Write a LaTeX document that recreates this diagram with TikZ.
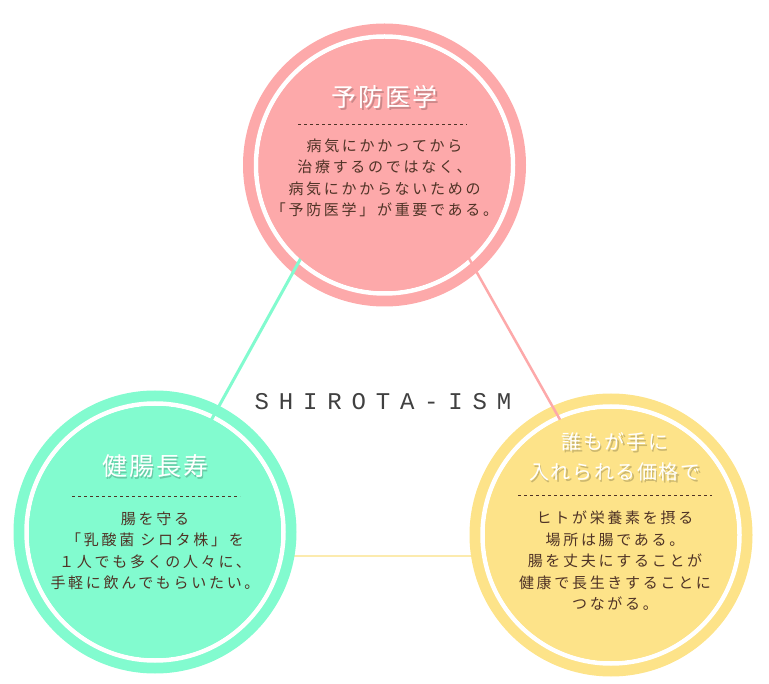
\documentclass[tikz,border=0pt]{standalone}
\usepackage{fontspec}
\newfontfamily\jptitle{Noto Sans CJK JP}[LetterSpace=8]
\newfontfamily\jpbody{Noto Sans CJK JP}[LetterSpace=18]
\newfontfamily\ismfont{Liberation Mono}[LetterSpace=41]
\usetikzlibrary{positioning}

\definecolor{prevpink}{HTML}{FDA9AA}
\definecolor{healthgreen}{HTML}{82FBCF}
\definecolor{priceyellow}{HTML}{FDE389}
\definecolor{lineyellow}{HTML}{FCEBAE}
\definecolor{textbrown}{HTML}{4F3326}

% white title with a soft shadow below it
\newcommand{\shadowed}[2]{\makebox[0pt][l]{\kern1.5pt\raisebox{-2pt}{\color{#1!80!black}#2}}#2}

\tikzstyle{outer} = [circle, inner sep=0pt, minimum size=283pt]
\tikzstyle{inner} = [circle, inner sep=0pt, minimum size=252pt]
\tikzstyle{ring} = [draw=white, line width=4.5pt]
\tikzstyle{title} = [text=white, font=\jptitle\fontsize{25}{30}\selectfont, align=center, inner sep=0pt]
\tikzstyle{smalltitle} = [font=\jptitle\fontsize{20}{30}\selectfont]
\tikzstyle{body} = [text=textbrown, font=\jpbody\fontsize{15}{21.5}\selectfont, align=center, inner sep=0pt]
\tikzstyle{divider} = [textbrown, line width=0.8pt, dash pattern=on 3pt off 3pt]
\tikzstyle{link} = [line width=3pt]

\begin{document}
\begin{tikzpicture}[x=1pt, y=-1pt]

    \useasboundingbox (0,0) rectangle (769,684);

    \coordinate (apex) at (384,108);
    \coordinate (lowleft) at (136,556);
    \coordinate (lowright) at (637,556);

    \draw [link, lineyellow, line width=2.5pt] (lowleft) -- (lowright);

    % outer bands
    \node (prevouter) [outer, fill=prevpink] at (384.5,165) {};
    \node (healthouter) [outer, fill=healthgreen] at (155,532) {};
    \node (priceouter) [outer, fill=priceyellow] at (611,535) {};

    \draw [ring] (prevouter.center) circle (128.5);
    \draw [ring] (healthouter.center) circle (128.5);
    \draw [ring] (priceouter.center) circle (128.5);

    \draw [link, healthgreen] (apex) -- (lowleft);
    \draw [link, prevpink, line width=2.5pt] (apex) -- (lowright);

    \node (previnner) [inner, fill=prevpink] at (prevouter.center) {};
    \node (healthinner) [inner, fill=healthgreen] at (healthouter.center) {};
    \node (priceinner) [inner, fill=priceyellow] at (priceouter.center) {};

    \node (ism) [font=\ismfont\fontsize{24}{28}\selectfont, text=black!75] at (383,402) {SHIROTA-ISM};

    % 予防医学
    \node (prevtitle) [title] at (384.5,98) {\shadowed{prevpink}{予防医学}};
    \draw [divider] (298,124) -- (467,124);
    \node (prevbody) [body] at (384.5,178) {病気にかかってから\\治療するのではなく、\\病気にかからないための\\「予防医学」が重要である。};

    % 健腸長寿
    \node (healthtitle) [title] at (155,467) {\shadowed{healthgreen}{健腸長寿}};
    \draw [divider] (72,496) -- (240,496);
    \node (healthbody) [body] at (155,551) {腸を守る\\「乳酸菌 シロタ株」を\\１人でも多くの人々に、\\手軽に飲んでもらいたい。};

    % 誰もが手に
    \node (pricetitle) [title, smalltitle] at (615,458) {\shadowed{priceyellow}{誰もが手に}\\\shadowed{priceyellow}{入れられる価格で}};
    \draw [divider] (518,495) -- (712,495);
    \node (pricebody) [body] at (615,561) {ヒトが栄養素を摂る\\場所は腸である。\\腸を丈夫にすることが\\健康で長生きすることに\\つながる。};

\end{tikzpicture}
\end{document}
